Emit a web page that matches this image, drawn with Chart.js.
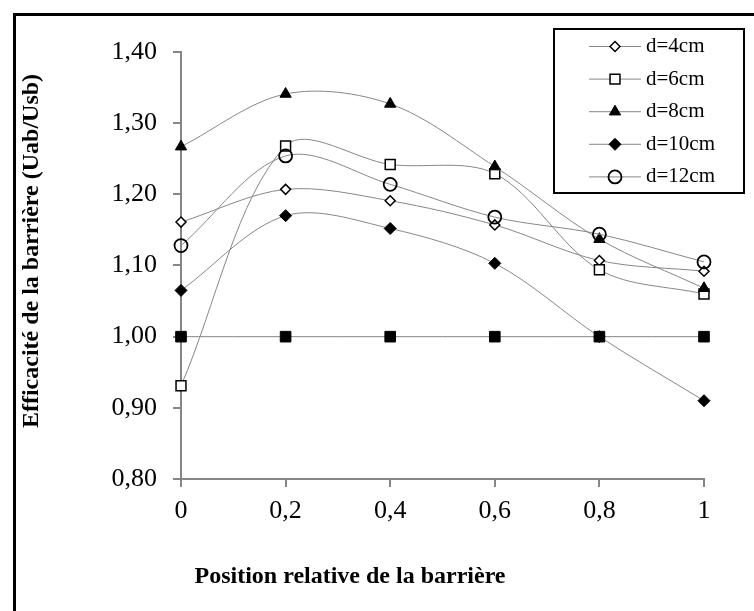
<!DOCTYPE html>
<html>
<head>
<meta charset="utf-8">
<script src="https://cdn.jsdelivr.net/npm/chart.js"></script>
<style>
  html, body { margin: 0; padding: 0; background: #fff; overflow: hidden; }
  #frame { position: absolute; left: 13px; top: 13px; width: 800px; height: 700px;
           border: 3px solid #000; box-sizing: border-box; }
  #chart { position: absolute; left: 0; top: 0; }
</style>
</head>
<body>
<div id="frame"></div>
<canvas id="chart" width="754" height="611"></canvas>
<script>
// Relative barrier position (x) and barrier efficiency Uab/Usb per spacing d
const positions = [0, 0.2, 0.4, 0.6, 0.8, 1];
const xTickLabels = ['0', '0,2', '0,4', '0,6', '0,8', '1'];
const yTickLabels = ['0,80', '0,90', '1,00', '1,10', '1,20', '1,30', '1,40'];
const seriesNames = ['d=4cm', 'd=6cm', 'd=8cm', 'd=10cm', 'd=12cm'];

const d4cm  = [1.161, 1.207, 1.191, 1.157, 1.107, 1.092];
const d6cm  = [0.931, 1.268, 1.242, 1.229, 1.094, 1.060];
const d8cm  = [1.267, 1.341, 1.327, 1.239, 1.137, 1.068];
const d10cm = [1.065, 1.170, 1.152, 1.103, 1.000, 0.910];
const d12cm = [1.128, 1.254, 1.214, 1.168, 1.144, 1.105];
const baseline = [1.00, 1.00, 1.00, 1.00, 1.00, 1.00];

const xTitle = 'Position relative de la barrière';
const yTitle = 'Efficacité de la barrière (Uab/Usb)';

const LINE = '#878787';
const toPoints = vals => vals.map((v, i) => ({ x: positions[i], y: v }));

function series(label, vals, style, order, inLegend) {
  return {
    label,
    data: toPoints(vals),
    borderColor: LINE,
    borderWidth: 1,
    tension: 0.33,
    fill: false,
    clip: false,
    order,
    inLegend,
    pointStyle: style.shape,
    pointRadius: style.r,
    pointHoverRadius: style.r,
    pointBackgroundColor: style.fill,
    pointBorderColor: '#000',
    pointBorderWidth: style.bw
  };
}

const datasets = [
  series(seriesNames[0], d4cm,  { shape: 'rectRot',  r: 5,   fill: '#fff', bw: 1.5 }, 5, true),
  series(seriesNames[1], d6cm,  { shape: 'rect',     r: 7,   fill: '#fff', bw: 1.5 }, 4, true),
  series(seriesNames[2], d8cm,  { shape: 'triangle', r: 6.5, fill: '#000', bw: 1 },   3, true),
  series(seriesNames[3], d10cm, { shape: 'rectRot',  r: 6,   fill: '#000', bw: 1 },   2, true),
  series(seriesNames[4], d12cm, { shape: 'circle',   r: 6.5, fill: 'rgba(0,0,0,0)', bw: 1.8 }, 1, true),
  series('1,00', baseline,      { shape: 'rect',     r: 7.5, fill: '#000', bw: 1 },   0, false)
];

// Axis titles and the boxed legend
const annotations = {
  id: 'annotations',
  afterDraw(chart) {
    const ctx = chart.ctx;
    ctx.save();
    ctx.fillStyle = '#000';
    ctx.font = 'bold 24px "Liberation Serif"';
    ctx.textAlign = 'center';
    ctx.textBaseline = 'middle';
    ctx.fillText(xTitle, 350, 576.5);
    ctx.save();
    ctx.translate(32, 251);
    ctx.rotate(-Math.PI / 2);
    ctx.fillText(yTitle, 0, 0);
    ctx.restore();

    // legend box
    ctx.fillStyle = '#fff';
    ctx.fillRect(554, 29, 190, 164);
    ctx.strokeStyle = '#000';
    ctx.lineWidth = 2;
    ctx.strokeRect(554, 29, 190, 164);

    const items = chart.data.datasets.filter(ds => ds.inLegend);
    items.forEach((ds, i) => {
      const y = 46.5 + i * 32.6;
      ctx.strokeStyle = LINE;
      ctx.lineWidth = 1;
      ctx.beginPath();
      ctx.moveTo(589, y);
      ctx.lineTo(641, y);
      ctx.stroke();
      ctx.fillStyle = ds.pointBackgroundColor;
      ctx.strokeStyle = ds.pointBorderColor;
      ctx.lineWidth = ds.pointBorderWidth;
      Chart.helpers.drawPoint(ctx, {
        pointStyle: ds.pointStyle, rotation: 0,
        radius: ds.pointRadius, borderWidth: ds.pointBorderWidth
      }, 615, y);
      ctx.fillStyle = '#000';
      ctx.font = '21px "Liberation Serif"';
      ctx.textAlign = 'left';
      ctx.textBaseline = 'middle';
      ctx.fillText(ds.label, 646, y);
    });
    ctx.restore();
  }
};

new Chart(document.getElementById('chart'), {
  type: 'line',
  data: { datasets },
  options: {
    responsive: false,
    animation: false,
    devicePixelRatio: 1,
    layout: { padding: { left: 0, top: 52, right: 50, bottom: 0 } },
    plugins: { legend: { display: false }, tooltip: { enabled: false } },
    scales: {
      x: {
        type: 'linear',
        min: 0, max: 1,
        afterFit(scale) { scale.height = 132; },
        grid: { drawOnChartArea: false, drawTicks: true, tickLength: 8, color: '#868686', lineWidth: 2 },
        border: { display: true, color: '#868686', width: 2 },
        ticks: {
          stepSize: 0.2,
          padding: 9,
          color: '#000',
          font: { family: 'Liberation Serif', size: 26 },
          callback: (v, i) => xTickLabels[i]
        }
      },
      y: {
        type: 'linear',
        min: 0.8, max: 1.4,
        afterFit(scale) { scale.width = 181; },
        grid: { drawOnChartArea: false, drawTicks: true, tickLength: 8, color: '#868686', lineWidth: 2 },
        border: { display: true, color: '#868686', width: 2 },
        ticks: {
          stepSize: 0.1,
          padding: 16,
          color: '#000',
          font: { family: 'Liberation Serif', size: 26 },
          callback: (v, i) => yTickLabels[i]
        }
      }
    }
  },
  plugins: [annotations]
});
</script>
</body>
</html>
